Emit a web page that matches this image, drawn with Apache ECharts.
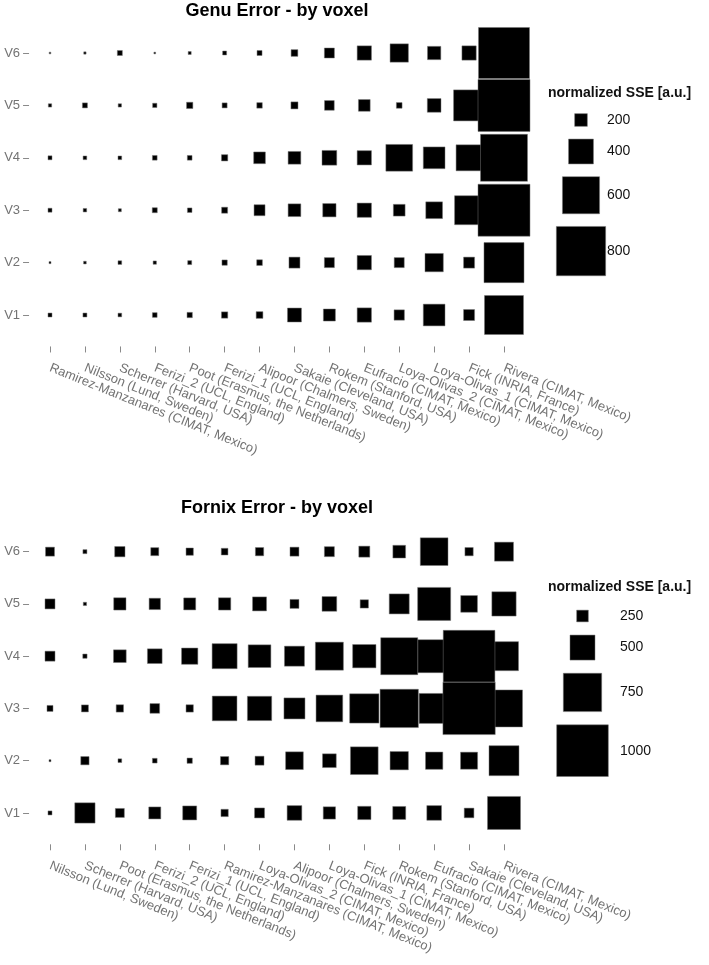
<!DOCTYPE html>
<html>
<head>
<meta charset="utf-8">
<script src="https://cdn.jsdelivr.net/npm/echarts@6/dist/echarts.min.js"></script>
<style>
html,body{margin:0;padding:0;background:#fff;}
#chart{width:709px;height:965px;}
</style>
</head>
<body>
<div id="chart"></div>
<script>
// ---------- data ----------
const voxels = ['V1', 'V2', 'V3', 'V4', 'V5', 'V6'];

const genuCategories = [
  'Ramirez-Manzanares (CIMAT, Mexico)', 'Nilsson (Lund, Sweden)', 'Scherrer (Harvard, USA)',
  'Ferizi_2 (UCL, England)', 'Poot (Erasmus, the Netherlands)', 'Ferizi_1 (UCL, England)',
  'Alipoor (Chalmers, Sweden)', 'Sakaie (Cleveland, USA)', 'Rokem (Stanford, USA)',
  'Eufracio (CIMAT, Mexico)', 'Loya-Olivas_2 (CIMAT, Mexico)', 'Loya-Olivas_1 (CIMAT, Mexico)',
  'Fick (INRIA, France)', 'Rivera (CIMAT, Mexico)'
];
const genuV1 = [57, 57, 52, 69, 79, 95, 102, 221, 189, 226, 161, 348, 172, 631];
const genuV2 = [25, 36, 52, 46, 57, 79, 85, 172, 156, 226, 156, 292, 172, 648];
const genuV3 = [57, 49, 41, 74, 66, 90, 172, 200, 210, 226, 184, 266, 467, 844];
const genuV4 = [57, 52, 52, 69, 69, 95, 184, 200, 233, 226, 430, 348, 418, 762];
const genuV5 = [46, 74, 46, 62, 95, 74, 82, 107, 151, 184, 85, 216, 500, 844];
const genuV6 = [20, 30, 74, 20, 41, 57, 74, 102, 156, 226, 292, 210, 226, 828];
const genuLegend = [200, 400, 600, 800];

const fornixCategories = [
  'Nilsson (Lund, Sweden)', 'Scherrer (Harvard, USA)', 'Poot (Erasmus, the Netherlands)',
  'Ferizi_2 (UCL, England)', 'Ferizi_1 (UCL, England)', 'Ramirez-Manzanares (CIMAT, Mexico)',
  'Loya-Olivas_2 (CIMAT, Mexico)', 'Alipoor (Chalmers, Sweden)', 'Loya-Olivas_1 (CIMAT, Mexico)',
  'Fick (INRIA, France)', 'Rokem (Stanford, USA)', 'Eufracio (CIMAT, Mexico)',
  'Sakaie (Cleveland, USA)', 'Rivera (CIMAT, Mexico)'
];
const fornixV1 = [106, 411, 199, 256, 293, 168, 218, 306, 261, 280, 274, 306, 212, 650];
const fornixV2 = [68, 186, 100, 119, 130, 186, 199, 363, 288, 550, 374, 355, 350, 593];
const fornixV3 = [143, 162, 168, 212, 168, 494, 486, 425, 531, 580, 749, 593, 1012, 725];
const fornixV4 = [218, 111, 269, 306, 336, 500, 456, 406, 556, 468, 725, 650, 1000, 575];
const fornixV5 = [218, 92, 261, 243, 256, 261, 293, 199, 306, 186, 406, 650, 344, 486];
const fornixV6 = [199, 106, 224, 181, 168, 156, 186, 199, 218, 237, 269, 550, 186, 387];
const fornixLegend = [250, 500, 750, 1000];

// ---------- helpers ----------
const FONT = "'Liberation Sans', Arial, Helvetica, sans-serif";
const sizeGenu = v => Math.max(1, 0.061 * v + 0.5);
const sizeFornix = v => Math.max(1, 0.0533 * v - 1.63);

function buildData(rows) {
  const out = [];
  rows.forEach((row, r) => row.forEach((v, c) => out.push([c, r, v])));
  out.sort((a, b) => a[2] - b[2]);
  return out;
}
const genuData = buildData([genuV1, genuV2, genuV3, genuV4, genuV5, genuV6]);
const fornixData = buildData([fornixV1, fornixV2, fornixV3, fornixV4, fornixV5, fornixV6]);

const xIdx = genuCategories.map((_, i) => i);
const yIdx = voxels.map((_, i) => i);

function xAxisFor(gridIndex, cats) {
  return {
    type: 'value', gridIndex, min: -0.6, max: cats.length - 0.4,
    axisLine: { show: false, onZero: false }, splitLine: { show: false },
    axisTick: { show: true, length: 6, customValues: xIdx, lineStyle: { color: '#8a8a8a', width: 1 } },
    axisLabel: {
      customValues: xIdx, formatter: v => cats[Math.round(v)] || '',
      rotate: -22, fontSize: 13, color: '#737373', fontFamily: FONT, margin: 21
    }
  };
}
function yAxisFor(gridIndex) {
  return {
    type: 'value', gridIndex, min: -0.6, max: voxels.length - 0.4,
    axisLine: { show: false, onZero: false }, splitLine: { show: false },
    axisTick: { show: true, length: 6, customValues: yIdx, lineStyle: { color: '#8a8a8a', width: 1 } },
    axisLabel: {
      customValues: yIdx, formatter: v => voxels[Math.round(v)] || '',
      fontSize: 13, color: '#737373', fontFamily: FONT, margin: 9
    }
  };
}

// legend graphics (positions stacked from key sizes)
function legendGraphics(title, values, sizeFn, cx, titleY, firstY, labelX, gap) {
  const els = [{
    type: 'text', x: 548, y: titleY,
    style: { text: title, font: 'bold 14px ' + FONT, fill: '#111', textVerticalAlign: 'middle' }
  }];
  let y = firstY, prev = null;
  values.forEach(v => {
    const s = sizeFn(v);
    if (prev !== null) y += (prev + s) / 2 + gap;
    els.push({
      type: 'rect', shape: { x: cx - s / 2, y: y - s / 2, width: s, height: s },
      style: { fill: '#000', stroke: '#777', lineWidth: 0.5 }
    });
    els.push({
      type: 'text', x: labelX, y: y,
      style: { text: String(v), font: '14px ' + FONT, fill: '#111', textVerticalAlign: 'middle' }
    });
    prev = s;
  });
  return els;
}

const chart = echarts.init(document.getElementById('chart'), null, { renderer: 'canvas' });
chart.setOption({
  backgroundColor: '#fff',
  animation: false,
  grid: [
    { left: 29.05, top: 21.56, width: 495.9, height: 324.9 },
    { left: 29.05, top: 520.3, width: 495.9, height: 324.0 }
  ],
  xAxis: [xAxisFor(0, genuCategories), xAxisFor(1, fornixCategories)],
  yAxis: [yAxisFor(0), yAxisFor(1)],
  series: [
    {
      type: 'scatter', xAxisIndex: 0, yAxisIndex: 0, symbol: 'rect', clip: true,
      symbolSize: d => sizeGenu(d[2]), data: genuData,
      itemStyle: { color: '#000', borderColor: '#777', borderWidth: 0.5, opacity: 1 },
      emphasis: { disabled: true }
    },
    {
      type: 'scatter', xAxisIndex: 1, yAxisIndex: 1, symbol: 'rect', clip: true,
      symbolSize: d => sizeFornix(d[2]), data: fornixData,
      itemStyle: { color: '#000', borderColor: '#777', borderWidth: 0.5, opacity: 1 },
      emphasis: { disabled: true }
    }
  ],
  graphic: [
    { type: 'text', x: 277, y: 11, style: { text: 'Genu Error - by voxel', font: 'bold 18px ' + FONT, fill: '#000', textAlign: 'center', textVerticalAlign: 'middle' } },
    { type: 'text', x: 277, y: 508, style: { text: 'Fornix Error - by voxel', font: 'bold 18px ' + FONT, fill: '#000', textAlign: 'center', textVerticalAlign: 'middle' } }
  ]
    .concat(legendGraphics('normalized SSE [a.u.]', genuLegend, sizeGenu, 581, 93, 120, 607, 12.7))
    .concat(legendGraphics('normalized SSE [a.u.]', fornixLegend, sizeFornix, 582.5, 587, 616, 620, 13.2))
});
</script>
</body>
</html>
